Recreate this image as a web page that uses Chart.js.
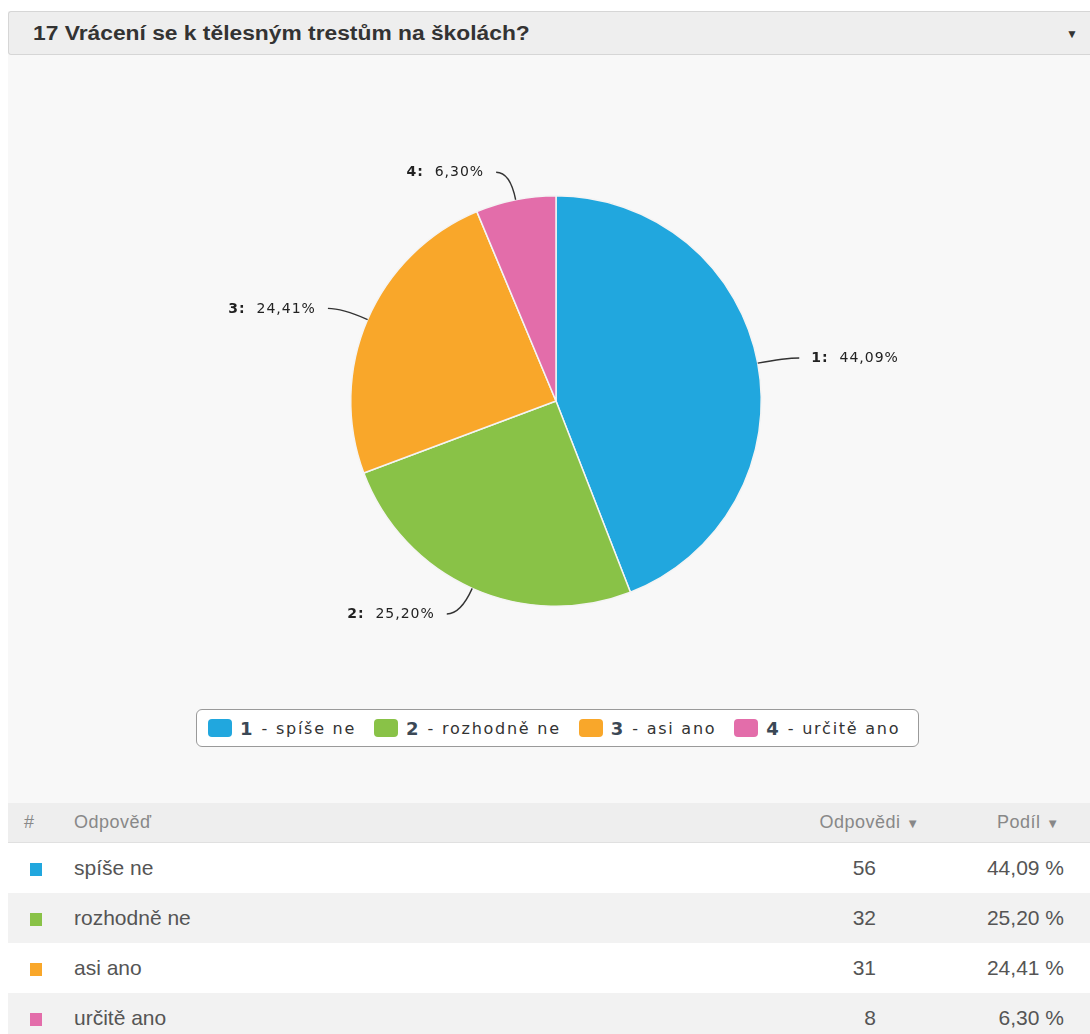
<!DOCTYPE html>
<html>
<head>
<meta charset="utf-8">
<script src="https://cdn.jsdelivr.net/npm/chart.js@4.4.1/dist/chart.umd.min.js"></script>
<style>
  body { margin: 0; background: #fff; font-family: "Liberation Sans", Arial, sans-serif; }
  #panel { position: absolute; left: 8px; top: 11px; width: 1082px; }
  #head { height: 44px; background: #eeeeee; border: 1px solid #d6d6d6; border-right: none; box-sizing: border-box;
          border-radius: 3px 0 0 3px; font-weight: bold; font-size: 20px; color: #333; line-height: 42px;
          padding-left: 24px; position: relative; }
  #head .txt { display: inline-block; transform: scaleX(1.14); transform-origin: left center; }
  #head .arrow { position: absolute; right: 12px; top: 1px; font-size: 12px; color: #333; }
  #chartArea { position: relative; height: 748px; background: #f8f8f8; }
  #box { position: absolute; left: 0; top: 0; width: 1082px; height: 640px; }
  #legend { position: absolute; left: 188px; top: 654px; height: 38px; border: 1px solid #9a9a9a; border-radius: 6px;
            background: #fff; display: flex; align-items: center; padding: 0 0 0 11px; box-sizing: border-box;
            font-family: "DejaVu Sans", sans-serif; font-size: 16px; letter-spacing: 1.75px; color: #333; }
  #legend .item { display: flex; align-items: center; margin-right: 18px; }
  #legend .sw { width: 24px; height: 18px; border-radius: 4px; margin-right: 8px; }
  #legend b { color: #3b4856; font-size: 18px; margin-right: 9px; letter-spacing: 0; }
  table { border-collapse: collapse; width: 1082px; font-family: "Liberation Sans", Arial, sans-serif; }
  th { background: #eeeeee; height: 39px; padding: 0; font-weight: normal; font-size: 18px; letter-spacing: 0.5px;
       color: #888; border-bottom: 1px solid #e0e0e0; }
  td { height: 50px; padding: 0; font-size: 21px; color: #555; }
  tr.odd td { background: #fff; }
  tr.even td { background: #f2f2f2; }
  .sq { display: inline-block; width: 12px; height: 13px; vertical-align: middle; }
  .r { text-align: right; }
  .tri { font-size: 13px; letter-spacing: 0; }
</style>
</head>
<body>
<div id="panel">
  <div id="head"><span class="txt">17 Vrácení se k tělesným trestům na školách?</span><span class="arrow">&#9660;</span></div>
  <div id="chartArea">
    <div id="box"><canvas id="pieChart"></canvas></div>
    <div id="legend"></div>
  </div>
  <table>
    <thead>
      <tr>
        <th style="width:66px;text-align:left;padding-left:16px;box-sizing:border-box">#</th>
        <th style="text-align:left">Odpověď</th>
        <th class="r" style="width:200px;padding-right:0">Odpovědi <span class="tri">&#9660;</span></th>
        <th class="r" style="width:140px;padding-right:31px">Podíl <span class="tri">&#9660;</span></th>
      </tr>
    </thead>
    <tbody id="tabulka"></tbody>
  </table>
</div>

<script>
const kategorie = ["spíše ne", "rozhodně ne", "asi ano", "určitě ano"];
const pocty = [56, 32, 31, 8];
const podily = ["44,09", "25,20", "24,41", "6,30"];
const barvy = ["#21a7de", "#89c247", "#f9a72a", "#e36daa"];

// legenda pod grafem
document.getElementById("legend").innerHTML = kategorie.map((k, i) => `
  <div class="item"><span class="sw" style="background:${barvy[i]}"></span><b>${i + 1}</b>- ${k}</div>
`).join("");

// tabulka odpovedi
document.getElementById("tabulka").innerHTML = kategorie.map((k, i) => `
  <tr class="${i % 2 === 0 ? "odd" : "even"}">
    <td style="padding-left:22px"><span class="sq" style="background:${barvy[i]}"></span></td>
    <td>${k}</td>
    <td class="r" style="padding-right:43px">${pocty[i]}</td>
    <td class="r" style="padding-right:26px">${podily[i]} %</td>
  </tr>
`).join("");

// popisky s vodici carou
const popisky = {
  id: "popisky",
  afterDatasetsDraw(chart) {
    const ctx = chart.ctx;
    const meta = chart.getDatasetMeta(0);
    ctx.save();
    meta.data.forEach((arc, i) => {
      const p = arc.getProps(["x", "y", "startAngle", "endAngle", "outerRadius"], true);
      const mid = (p.startAngle + p.endAngle) / 2;
      const cos = Math.cos(mid), sin = Math.sin(mid);
      const x1 = p.x + cos * p.outerRadius, y1 = p.y + sin * p.outerRadius;
      const x2 = p.x + cos * (p.outerRadius + 28), y2 = p.y + sin * (p.outerRadius + 28);
      const vpravo = cos >= 0;
      const x3 = x2 + (vpravo ? 14 : -14);
      ctx.strokeStyle = "#333";
      ctx.lineWidth = 1.4;
      ctx.beginPath();
      ctx.moveTo(x1, y1);
      ctx.quadraticCurveTo(x2, y2, x3, y2);
      ctx.stroke();

      const cislo = (i + 1) + ":";
      const hodnota = "  " + podily[i] + "%";
      ctx.fillStyle = "#222";
      ctx.textBaseline = "middle";
      ctx.letterSpacing = "1px";
      ctx.font = "bold 14px 'DejaVu Sans'";
      const w1 = ctx.measureText(cislo).width;
      ctx.font = "14px 'DejaVu Sans'";
      const w2 = ctx.measureText(hodnota).width;
      const tx = vpravo ? x3 + 12 : x3 - 12 - w1 - w2;
      ctx.textAlign = "left";
      ctx.font = "bold 14px 'DejaVu Sans'";
      ctx.fillText(cislo, tx, y2 + 0.5);
      ctx.font = "14px 'DejaVu Sans'";
      ctx.fillText(hodnota, tx + w1, y2 + 0.5);
    });
    ctx.restore();
  }
};

new Chart(document.getElementById("pieChart"), {
  type: "pie",
  data: {
    labels: kategorie,
    datasets: [{
      data: pocty,
      backgroundColor: barvy,
      borderColor: "#f4f4f4",
      borderWidth: 1.5,
      hoverOffset: 0
    }]
  },
  options: {
    responsive: true,
    maintainAspectRatio: false,
    animation: false,
    events: [],
    layout: { padding: { top: 140, bottom: 88, left: 342, right: 328 } },
    plugins: {
      legend: { display: false },
      tooltip: { enabled: false }
    }
  },
  plugins: [popisky]
});
</script>
</body>
</html>
